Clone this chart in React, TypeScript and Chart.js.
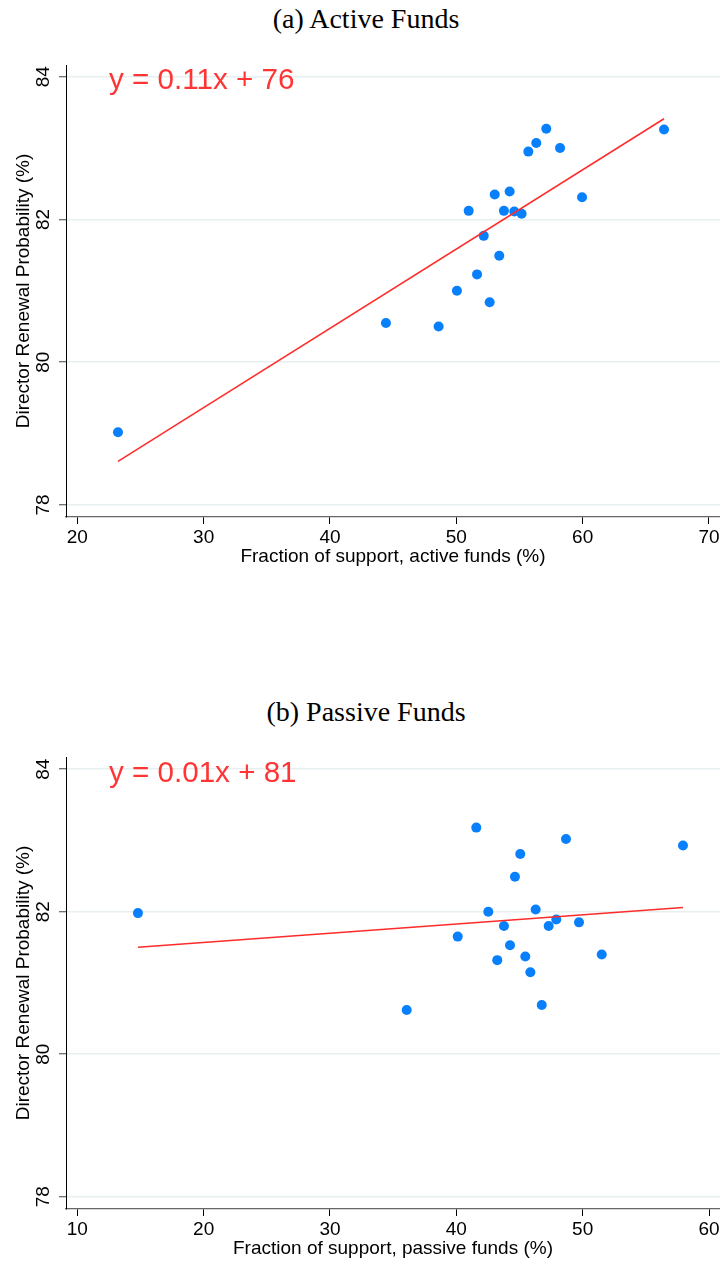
import React, { useEffect, useRef } from "react";
import { Chart, registerables } from "chart.js";

Chart.register(...registerables);

// ---- Data ----
const activeX = [23.22, 44.43, 48.6, 50.05, 50.98, 51.64, 52.17, 52.64, 53.04, 53.4, 53.77, 54.22, 54.59, 55.17, 55.7, 56.33, 57.12, 58.21, 59.95, 66.44];
const activeY = [79.02, 80.55, 80.5, 81.0, 82.12, 81.23, 81.77, 80.84, 82.35, 81.49, 82.12, 82.39, 82.11, 82.08, 82.95, 83.07, 83.27, 83.0, 82.31, 83.26];
const activeFitX = [23.22, 66.44];
const activeFitY = [78.61, 83.41];

const passiveX = [14.8, 36.07, 40.11, 41.58, 42.53, 43.24, 43.77, 44.25, 44.64, 45.06, 45.46, 45.86, 46.28, 46.76, 47.31, 47.91, 48.68, 49.71, 51.51, 57.94];
const passiveY = [81.98, 80.62, 81.65, 83.18, 82.0, 81.32, 81.8, 81.53, 82.49, 82.81, 81.37, 81.15, 82.03, 80.69, 81.8, 81.89, 83.02, 81.85, 81.4, 82.93];
const passiveFitX = [14.8, 57.94];
const passiveFitY = [81.5, 82.06];

const yTicks = [78, 80, 82, 84];
const activeXTicks = [20, 30, 40, 50, 60, 70];
const passiveXTicks = [10, 20, 30, 40, 50, 60];

const SANS = '"Liberation Sans", Arial, Helvetica, sans-serif';

const yLabelPlugin = {
  id: "yLabelPlugin",
  afterDraw(chart: any) {
    const s = chart.scales.y;
    const ctx = chart.ctx;
    ctx.save();
    ctx.font = `19px ${SANS}`;
    ctx.fillStyle = "#000";
    ctx.textAlign = "center";
    ctx.textBaseline = "middle";
    s.ticks.forEach((t: any) => {
      const y = s.getPixelForValue(t.value);
      ctx.save();
      ctx.translate(43.5, y);
      ctx.rotate(-Math.PI / 2);
      ctx.fillText(String(t.value), 0, 0);
      ctx.restore();
    });
    ctx.restore();
  },
};

type PlotProps = {
  xs: number[];
  ys: number[];
  fitX: number[];
  fitY: number[];
  xTicks: number[];
  xMin: number;
  xMax: number;
  yMin: number;
  yMax: number;
  xTitle: string;
};

function ScatterPlot(p: PlotProps) {
  const ref = useRef<HTMLCanvasElement>(null);
  useEffect(() => {
    if (!ref.current) return;
    const chart = new Chart(ref.current, {
      type: "scatter",
      data: {
        datasets: [
          {
            type: "line",
            data: p.fitX.map((x, i) => ({ x, y: p.fitY[i] })),
            borderColor: "#ff2b2b",
            borderWidth: 1.5,
            pointRadius: 0,
            fill: false,
          } as any,
          {
            data: p.xs.map((x, i) => ({ x, y: p.ys[i] })),
            backgroundColor: "#0880fb",
            borderWidth: 0,
            pointRadius: 5,
          },
        ],
      },
      options: {
        animation: false,
        responsive: false,
        maintainAspectRatio: false,
        layout: { padding: { top: 15, right: 60, left: 0, bottom: 0 } },
        plugins: { legend: { display: false }, tooltip: { enabled: false } },
        scales: {
          x: {
            type: "linear",
            min: p.xMin,
            max: p.xMax,
            afterBuildTicks: (s: any) => {
              s.ticks = p.xTicks.map((v) => ({ value: v }));
            },
            afterFit: (s: any) => {
              s.height = 60;
            },
            border: { display: true, color: "#666", width: 1.3 },
            grid: {
              drawOnChartArea: false,
              drawTicks: true,
              tickLength: 7,
              tickColor: "#000",
              tickWidth: 1,
            },
            ticks: {
              font: { family: SANS, size: 19 },
              color: "#000",
              padding: 2,
              maxRotation: 0,
              autoSkip: false,
            },
            title: {
              display: true,
              text: p.xTitle,
              font: { family: SANS, size: 19 },
              color: "#000",
              padding: { top: 0, bottom: 8.6 },
            },
          },
          y: {
            type: "linear",
            min: p.yMin,
            max: p.yMax,
            afterBuildTicks: (s: any) => {
              s.ticks = yTicks.map((v) => ({ value: v }));
            },
            afterFit: (s: any) => {
              s.width = 66;
            },
            border: { display: true, color: "#000", width: 1 },
            grid: {
              color: "#e8eff0",
              lineWidth: 1.5,
              drawTicks: true,
              tickLength: 7,
              tickColor: "#444",
              tickWidth: 1,
            },
            ticks: { display: false },
            title: {
              display: true,
              text: "Director Renewal Probability (%)",
              font: { family: SANS, size: 19 },
              color: "#000",
              padding: { top: 12, bottom: 0 },
            },
          },
        },
      } as any,
      plugins: [yLabelPlugin],
    });
    return () => chart.destroy();
  }, []);
  return (
    <canvas
      ref={ref}
      width={780}
      height={527}
      style={{ width: 780, height: 527, display: "block" }}
    />
  );
}

const titleStyle: React.CSSProperties = {
  position: "absolute",
  left: 0,
  width: 732,
  textAlign: "center",
  fontFamily: '"Liberation Serif", "Times New Roman", serif',
  fontSize: 28,
  lineHeight: "34px",
  color: "#000",
  whiteSpace: "nowrap",
};

const annoStyle: React.CSSProperties = {
  position: "absolute",
  left: 109,
  fontFamily: SANS,
  fontSize: 29.6,
  lineHeight: "29px",
  color: "#ff3535",
  whiteSpace: "nowrap",
};

export default function App() {
  return (
    <div
      style={{
        position: "absolute",
        left: 0,
        top: 0,
        width: 720,
        height: 1263,
        overflow: "hidden",
        background: "#fff",
      }}
    >
      <div style={{ ...titleStyle, top: 2 }}>(a) Active Funds</div>
      <div style={{ position: "absolute", left: 0, top: 50 }}>
        <ScatterPlot
          xs={activeX}
          ys={activeY}
          fitX={activeFitX}
          fitY={activeFitY}
          xTicks={activeXTicks}
          xMin={19.106}
          xMax={70.871}
          yMin={77.832}
          yMax={84.163}
          xTitle="Fraction of support, active funds (%)"
        />
      </div>
      <div style={{ ...annoStyle, top: 64 }}>y = 0.11x + 76</div>

      <div style={{ ...titleStyle, top: 694.5 }}>(b) Passive Funds</div>
      <div style={{ position: "absolute", left: 0, top: 742 }}>
        <ScatterPlot
          xs={passiveX}
          ys={passiveY}
          fitX={passiveFitX}
          fitY={passiveFitY}
          xTicks={passiveXTicks}
          xMin={9.105}
          xMax={60.87}
          yMin={77.827}
          yMax={84.171}
          xTitle="Fraction of support, passive funds (%)"
        />
      </div>
      <div style={{ ...annoStyle, top: 757 }}>y = 0.01x + 81</div>
    </div>
  );
}
